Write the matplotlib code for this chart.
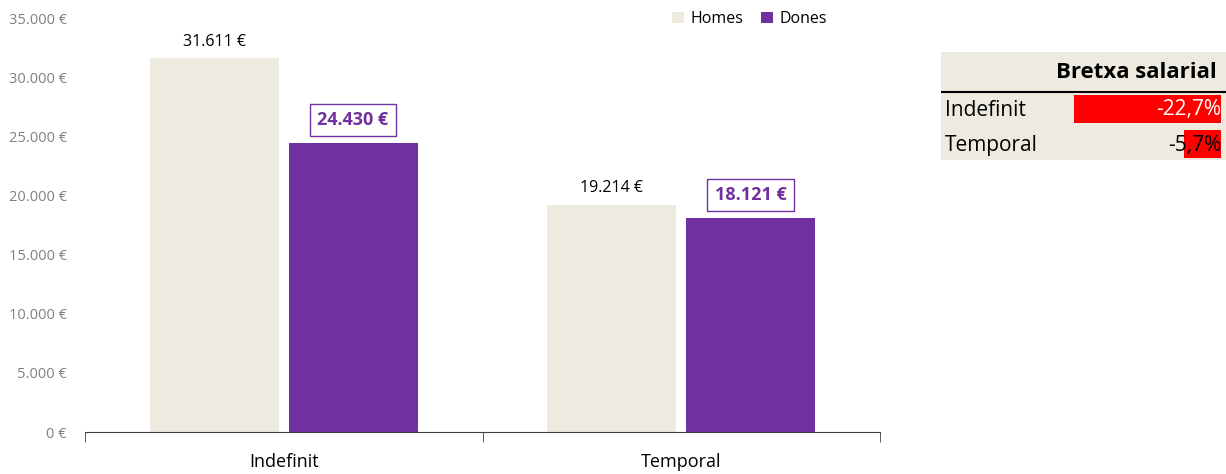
import matplotlib
matplotlib.use("Agg")
import matplotlib.pyplot as plt
import numpy as np

categories = ["Indefinit", "Temporal"]
homes = [31611, 19214]
dones = [24430, 18121]
series_names = ["Homes", "Dones"]
gap_labels = ["Indefinit", "Temporal"]
gap_values = [-22.7, -5.7]
yticks = [0, 5000, 10000, 15000, 20000, 25000, 30000, 35000]

BEIGE = "#EDEBE0"
PURPLE = "#7030A0"
RED = "#FF0000"
FONT = ["Open Sans", "DejaVu Sans"]

plt.rcParams["font.family"] = FONT

W, H = 1226, 474
fig = plt.figure(figsize=(W / 100, H / 100), dpi=100)

def fx(px):
    return px / W

def fy(py):
    return 1 - py / H

ax = fig.add_axes([fx(85), fy(432), fx(880) - fx(85), fy(18) - fy(432)])

def eur(v):
    return f"{v:,.0f}".replace(",", ".") + " €"

x = np.arange(len(categories))
bw = 0.324
gap = 0.025
hb = ax.bar(x - bw / 2 - gap / 2, homes, bw, color=BEIGE, label=series_names[0])
db = ax.bar(x + bw / 2 + gap / 2, dones, bw, color=PURPLE, label=series_names[1])

for rect, v in zip(hb, homes):
    ax.annotate(eur(v), (rect.get_x() + rect.get_width() / 2, v), xytext=(0, 6),
                textcoords="offset points", ha="center", va="bottom", fontsize=11.5, color="black")
for rect, v in zip(db, dones):
    ax.annotate(eur(v), (rect.get_x() + rect.get_width() / 2, v), xytext=(0, 10),
                textcoords="offset points", ha="center", va="bottom", fontsize=13,
                color=PURPLE, fontweight="bold",
                bbox=dict(boxstyle="square,pad=0.4", fc="white", ec=PURPLE, lw=1))

ax.set_xlim(-0.5, len(categories) - 0.5)
ax.set_ylim(0, 35000)
ax.set_yticks(yticks)
ax.set_yticklabels([eur(t) for t in yticks], color="#808080", fontsize=10.5)
ax.tick_params(axis="y", length=0, pad=13)
ax.set_xticks(x)
ax.set_xticklabels(categories, fontsize=13)
ax.set_xticks([-0.5, 0.5, 1.5], minor=True)
ax.tick_params(axis="x", which="major", length=0, pad=15)
ax.tick_params(axis="x", which="minor", length=7, color="#404040", direction="out")
for s in ["top", "right", "left"]:
    ax.spines[s].set_visible(False)
ax.spines["bottom"].set_color("#404040")

leg = fig.legend(handles=[hb, db], labels=series_names, loc="center left",
                 bbox_to_anchor=(fx(672), fy(19)),
                 ncol=2, frameon=False, fontsize=11.5, handlelength=0.75, handleheight=0.75,
                 handletextpad=0.4, columnspacing=1.1, borderaxespad=0, borderpad=0)

# Table
tl, tr, tt, tb = 941, 1226, 52, 160
tax = fig.add_axes([fx(tl), fy(tb), fx(tr) - fx(tl), fy(tt) - fy(tb)])
tax.set_xlim(0, tr - tl)
tax.set_ylim(tb - tt, 0)
tax.axis("off")
tax.add_patch(plt.Rectangle((0, 0), tr - tl, tb - tt, color=BEIGE, zorder=0))
tax.text(276, 21, "Bretxa salarial", ha="right", va="center", fontsize=16, fontweight="bold")
tax.plot([0, tr - tl], [40, 40], color="black", lw=1.5)

row_y = [57, 92]
bar_max = 147
right = 280
maxabs = max(abs(v) for v in gap_values)
widths = [abs(v) / maxabs * bar_max for v in gap_values]
tax.barh(row_y, widths, height=28, left=[right - w for w in widths], color=RED, zorder=1)
for yy, lab, v, w in zip(row_y, gap_labels, gap_values, widths):
    tax.text(4, yy + 1, lab, ha="left", va="center", fontsize=15, zorder=2)
    s = f"{v:.1f}%".replace(".", ",")
    col = "white" if w > 100 else "black"
    tax.text(right, yy + 1, s, ha="right", va="center", fontsize=15, color=col, zorder=2)

fig.savefig("out.png", dpi=100)
